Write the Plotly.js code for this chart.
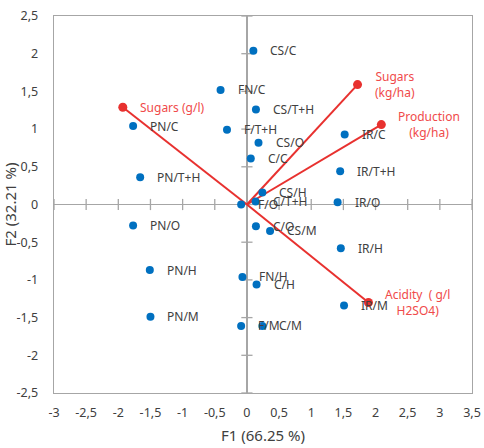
<!DOCTYPE html>
<html>
<head>
<meta charset="utf-8">
<script src="https://cdn.plot.ly/plotly-3.0.1.min.js"></script>
<style>html,body{margin:0;padding:0;background:#fff;}#chart{width:484px;height:448px;}</style>
</head>
<body>
<div id="chart"></div>
<script>
// Observations (F1, F2)
const obsLabels = ["CS/C","FN/C","CS/T+H","F/T+H","CS/O","C/C","PN/C","PN/T+H","IR/C","IR/T+H","CS/H","C/T+H","F/O","IR/O","PN/O","PN/H","PN/M","FN/H","F/M","C/M","C/O","CS/M","IR/H","C/H","IR/M"];
const obsF1 = [0.10,-0.41,0.14,-0.31,0.18,0.06,-1.77,-1.66,1.52,1.45,0.24,0.135,-0.09,1.41,-1.77,-1.51,-1.50,-0.07,-0.09,0.24,0.14,0.36,1.46,0.15,1.51];
const obsF2 = [2.04,1.52,1.26,0.99,0.82,0.61,1.04,0.36,0.93,0.44,0.16,0.04,0.0,0.03,-0.28,-0.87,-1.49,-0.96,-1.61,-1.61,-0.29,-0.35,-0.58,-1.06,-1.34];

// Variables (vectors)
const varLabels = ["Sugars (g/l)","Sugars<br>(kg/ha)","Production<br>(kg/ha)","Acidity  ( g/l<br>H2SO4)"];
const varF1 = [-1.93,1.72,2.09,1.89];
const varF2 = [1.29,1.59,1.06,-1.30];

// Axis ticks
const xTickVals = [-3,-2.5,-2,-1.5,-1,-0.5,0,0.5,1,1.5,2,2.5,3,3.5];
const xTickText = ["-3","-2,5","-2","-1,5","-1","-0,5","0","0,5","1","1,5","2","2,5","3","3,5"];
const yTickVals = [-2.5,-2,-1.5,-1,-0.5,0,0.5,1,1.5,2,2.5];
const yTickText = ["-2,5","-2","-1,5","-1","-0,5","0","0,5","1","1,5","2","2,5"];

const grey = "#a6a6a6";
const txt = "#404040";
const blue = "#0070c0";
const red = "#e8312f";
const redTxt = "#f04a4a";
const FONT = "Noto Sans, sans-serif";

// cross ticks on zero lines
const tickTraceX = {x: xTickVals, y: xTickVals.map(()=>0), mode: "markers", type: "scatter",
  marker: {symbol: "line-ns-open", size: 8, color: grey, line: {color: grey, width: 1.3}}, hoverinfo: "skip", showlegend: false};
const tickTraceY = {x: yTickVals.map(()=>0), y: yTickVals, mode: "markers", type: "scatter",
  marker: {symbol: "line-ew-open", size: 8, color: grey, line: {color: grey, width: 1.3}}, hoverinfo: "skip", showlegend: false};

// vector lines
const vx = [], vy = [];
varF1.forEach((v,i)=>{ vx.push(0, v, null); vy.push(0, varF2[i], null); });
const vecLines = {x: vx, y: vy, mode: "lines", type: "scatter", line: {color: red, width: 2}, hoverinfo: "skip", showlegend: false};
const vecEnds = {x: varF1, y: varF2, mode: "markers", type: "scatter", marker: {color: red, size: 9}, showlegend: false};

const obsTrace = {x: obsF1, y: obsF2, mode: "markers", type: "scatter", marker: {color: blue, size: 8}, text: obsLabels, showlegend: false};

const annotations = [];
obsLabels.forEach((t,i)=>annotations.push({x: obsF1[i], y: obsF2[i], xref: "x", yref: "y", text: t, showarrow: false,
  xanchor: "left", yanchor: "middle", xshift: 15, font: {family: FONT, size: 12, color: txt}}));
varLabels.forEach((t,i)=>annotations.push({x: varF1[i], y: varF2[i], xref: "x", yref: "y", text: t, showarrow: false,
  xanchor: "left", yanchor: "middle", align: "center", xshift: 15, font: {family: FONT, size: 12, color: redTxt}}));

const layout = {
  width: 484, height: 448,
  margin: {l: 54, r: 12, t: 16, b: 55},
  paper_bgcolor: "#fff", plot_bgcolor: "#fff",
  font: {family: FONT, size: 12.5, color: txt},
  showlegend: false,
  xaxis: {range: [-3, 3.5], tickvals: xTickVals, ticktext: xTickText, showgrid: false,
    zeroline: true, zerolinecolor: grey, zerolinewidth: 1.3,
    showline: true, mirror: true, linecolor: grey, linewidth: 1.3, ticks: "", ticklabelstandoff: 8,
    tickfont: {family: FONT, size: 12.5, color: txt},
    title: {text: "F1 (66.25 %)", font: {family: FONT, size: 15, color: txt}, standoff: 10}},
  yaxis: {range: [-2.5, 2.5], tickvals: yTickVals, ticktext: yTickText, showgrid: false,
    zeroline: true, zerolinecolor: grey, zerolinewidth: 1.3,
    showline: true, mirror: true, linecolor: grey, linewidth: 1.3, ticks: "", ticklabelstandoff: 12,
    tickfont: {family: FONT, size: 12.5, color: txt},
    title: {text: "F2 (32.21 %)", font: {family: FONT, size: 15, color: txt}, standoff: 6}},
  annotations: annotations
};

Plotly.newPlot("chart", [tickTraceX, tickTraceY, vecLines, vecEnds, obsTrace], layout, {displayModeBar: false, staticPlot: true});
</script>
</body>
</html>
